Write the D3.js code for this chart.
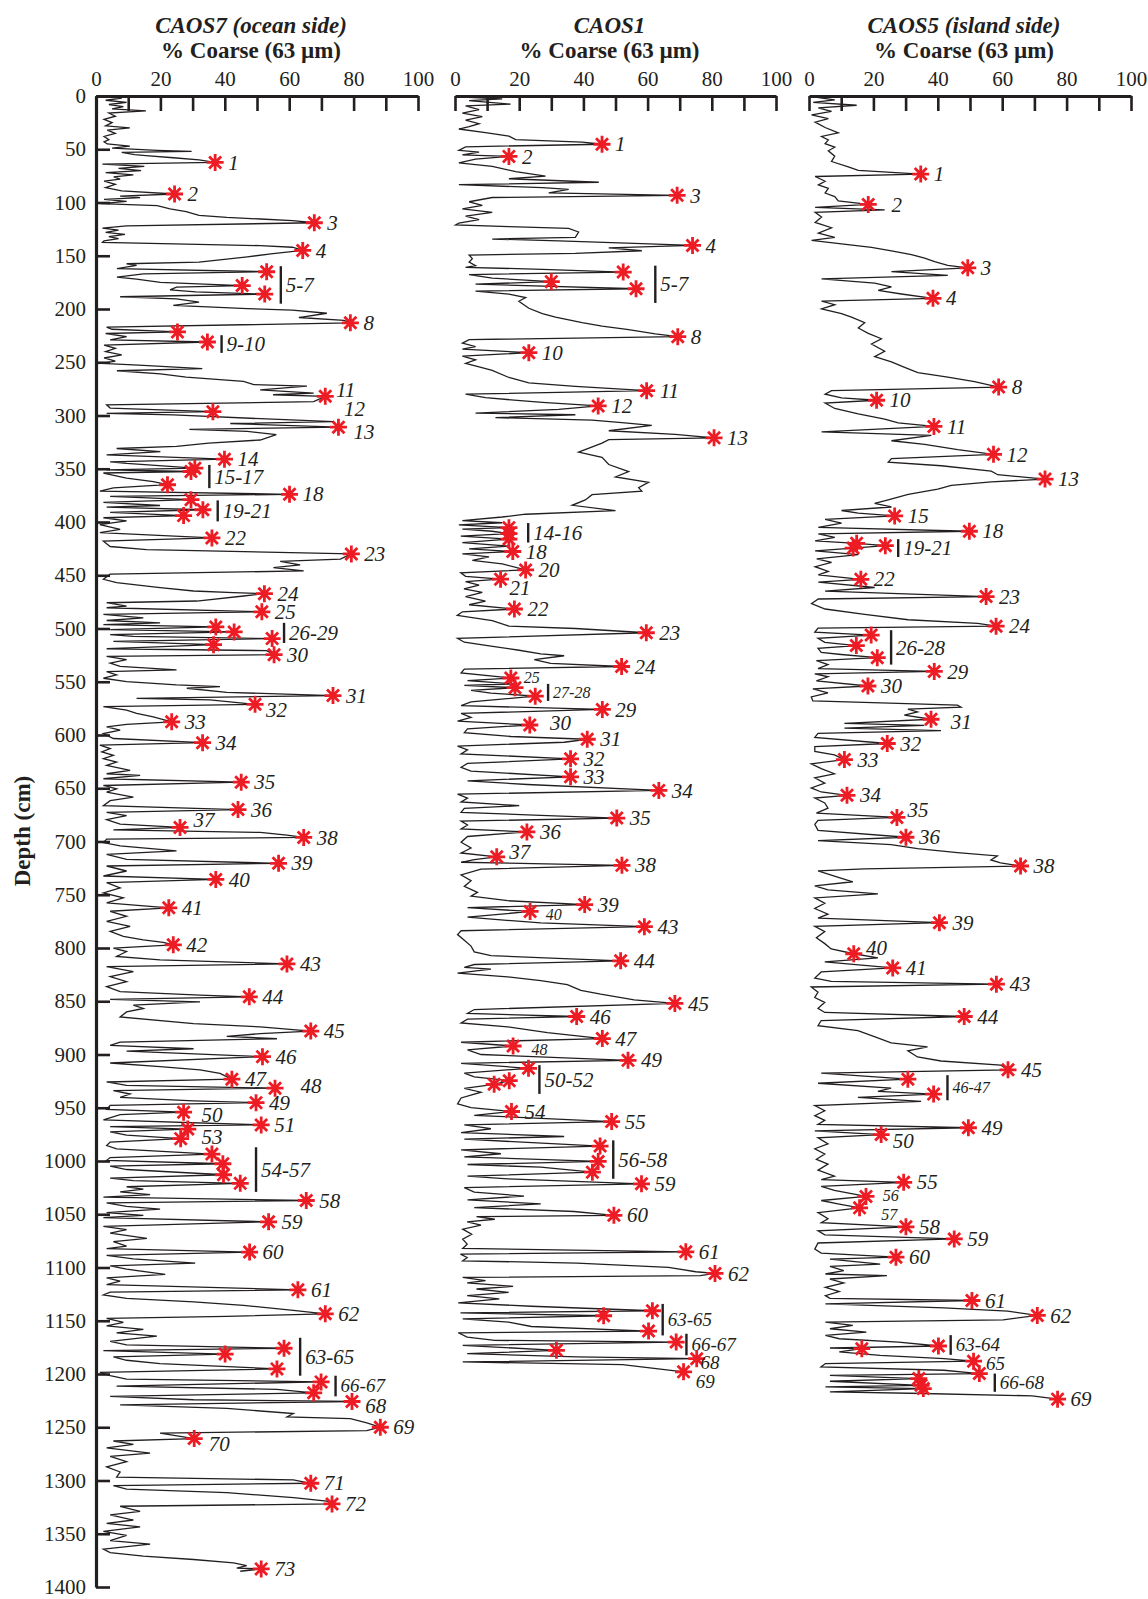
<!DOCTYPE html>
<html>
<head>
<meta charset="utf-8">
<script src="https://cdnjs.cloudflare.com/ajax/libs/d3/7.8.5/d3.min.js"></script>
<style>
  body { margin: 0; background: #fff; }
  text { font-family: "Liberation Serif", "Times New Roman", serif; fill: #231f20; }
</style>
</head>
<body>
<svg id="chart" width="1148" height="1599"></svg>
<script>
// ---- data: [depth cm, % coarse] ----
// CAOS7 (ocean side)
const caos7Trace = [[0,4.5],[2,8],[4,3],[6,9.5],[8,4],[10,8.5],[12,5],[14,15.5],[16,4],[19,6],[22,2.5],[25,5],[28,3],[30,10.5],[32,3.5],[35,6],[38,2.5],[41,4],[43,2.5],[45,3.5],[47,10.5],[49,5],[51,19],[52,29.7],[53,8],[55,12],[56,15.5],[58,24],[60,32],
[64,2],[66,15],[68,7],[70,14],[72,3],[74,11.6],[76,5.5],[78,7.5],[80,2.5],[83,6],[86,3],[89,8],
[94,7.5],[95.5,13.7],[97,2.5],[99,9.5],[101,1.5],[103,19],[106,23],[108.5,28],[112,32],[114,40.6],[115.5,51],[117,61],
[122,9.5],[124,2],[126,7],[128,3],[130,9],[132,4],[134,7],[136,2.5],[137.5,2],[139,28],[140.5,51],[142,61],
[148,55],[151,47],[156,32],[157.5,9.5],[159,12.6],[162,6.5],[167,14.7],[170,6.5],[172,12.6],[175,20],
[179.5,25],[182,23],[184,31],[188.5,7.5],[190.5,25],[193.5,32],[196.6,24],[199.7,47],[201,61],[204,71.7],[208,63],[210.6,77],
[217,3.3],[219,5],[223,3],[226,9.5],[229,4.4],[234,2.5],[237,6],[240,3],[243,8],[246,2.5],[249,6],[251,2],[253,14.7],[256,33],[258,6.5],[261,20],[264,28],[268,45.8],[271,49],[272.5,65.5],[276,51],[279,67.6],[280.5,55],
[287,67.6],[290,3.3],[293,4.4],[298,3.3],[299.5,24],[303,51],[305.8,73.8],[307.5,41.7],
[313,29],[315,47],[318,56],[323,51],[326,35],[329,25],[331,6.4],[334,20],[337,3.3],
[343.5,4.4],[345,9.5],[351,3.3],[354,2.3],[358.8,9.5],[362,17.8],[368,5.4],[371,1.2],[376,4.4],[381.5,2.3],[384.5,19.9],[386,3.3],[391,4.4],[396,2.3],[399,9.5],[402.5,1.2],[407,7.5],[410,1.2],[418,2.3],[423,4.4],[426,15.7],
[434.9,75.9],[437,57.2],[440.2,63.4],[442.8,55.1],[445.9,64.5],[449,4.4],[453.8,2.3],[457,6.4],[461.6,19.9],[464.8,30.3],[466.4,42.7],[469.5,45.8],[474.2,31.3],[475.8,3.3],[479,9.5],[480.5,3.3],[486.8,2.3],[490,14.7],[492.5,3.3],[494.7,19.9],[496.3,2.3],[501,4.4],[505.7,4.4],[507.3,11.6],[512,5.4],[517.7,14.7],[519,3.3],[520.8,53],[526.2,3.3],[529.3,9.5],[532.5,4.4],[535.6,7.5],[538.8,25],[540.4,3.3],[543.5,6.4],[546.7,2.3],[549.8,9.5],[553,25],[554.5,38.5],[556.1,28.2],[560,40.6],[561.8,61.3],[565.6,12.6],[567.1,35.4],[573.4,2.3],[576.6,9.5],[579.7,12.6],[582.9,17.8],[590,9.5],[592.3,3.3],[595.5,7.5],[598.6,2.3],[603.3,5.4],[609.6,1.2],[612.8,4.4],[615.9,1.8],[619.1,5.4],[622.2,2.3],[625.4,6.4],[628.5,3.3],[633.3,10.6],[636.4,3.3],[638,13.7],[641.1,2.3],[647.4,2.3],[650.6,6.4],[653.7,3.3],[658.4,11.6],[661.6,4.4],[666.3,2.3],[672.6,3.3],[675.8,9.5],[679.5,3.3],[683.6,7.5],[689,5.4],[691.5,51],[694,59.3],[697.8,3.3],[701,2.3],[704.1,7.5],[708.8,25],[712,3.3],[716.7,9.5],[723,3.3],[727.7,9.5],[732.4,2.3],[738.7,3.3],[743.5,7.5],[748.2,2.3],[752.9,8.5],[757.6,3.3],[765.5,4.4],[770.2,9.5],[774.9,3.3],[779.7,10.6],[784.4,4.4],[789.1,8.5],[792.3,14.7],[794.8,20.9],[800.1,5.4],[803.3,9.5],[808,6.4],[811.1,19.9],[817.4,3.3],[822.2,11.6],[826.9,4.4],[831.6,9.5],[836.3,3.3],[841,7.5],[844.2,32.3],[848.3,4.4],[850.5,32.3],[853.7,11.6],[856.8,14.7],[860,9.5],[864.7,7.5],[871,30.3],[874.1,51],[880.4,51],[883,40.6],[885.2,56.2],[888.3,7.5],[891.5,4.4],[894.6,30.3],[896.8,9.5],
[908,4.4],[911.3,19.9],[914.5,32.3],[917.7,38.5],[925.8,3.3],[929,9.5],[933.9,5.4],[937.1,10.6],[940.3,7.5],[943.5,30.3],[947.7,4.4],[951.6,3.3],[956.5,7.5],[961.3,2.3],[967.7,4.4],[972.6,4.4],[975.8,9.5],[982.3,4.4],[985.5,3.3],[988.7,6.4],[996.8,4.4],[999.4,3.3],[1004.8,4.4],[1008,9.5],[1016.1,4.4],[1018.4,11.6],[1024.2,9.5],[1026.5,14.7],[1029,7.5],[1031.6,16.8],[1033.9,2.3],[1039.4,3.3],[1042.6,9.5],[1045.2,19.9],[1048.4,3.3],[1051,14.7],[1053.2,2.3],[1061.3,2.3],[1064.5,9.5],[1067.7,4.4],[1072.6,15.8],[1075.8,5.4],[1080,9.5],[1082.3,3.3],[1088.7,3.3],[1091.9,11.6],[1095.8,30.8],[1098.4,4.4],[1101.6,9.5],[1106.5,21.5],[1109.7,3.3],[1112.9,7.5],[1116.1,3.3],[1123.2,4.4],[1125.8,2.3],[1129,9.5],[1132.3,30.3],[1135.5,45.8],[1140.3,61.3],[1145.8,40.6],[1147.7,3.3],[1151.6,8.5],[1154.8,3.3],[1158.1,14.7],[1161.3,6.4],[1164.5,18.9],[1169.4,4.4],[1172.6,9.5],[1178,2.3],[1183.9,5.4],[1187.1,9.5],[1190.3,19.9],[1198.4,1.2],[1201.6,4.4],[1204.8,9.5],[1211.3,6.4],[1214.5,56.2],[1221,4.4],[1224.2,30.3],[1229,7.5],[1232.3,40.6],[1237.1,61.3],[1240.3,59.3],[1241.9,79],[1245.8,84.1],[1253.2,84.1],[1255.5,19.9],[1262.9,5.4],[1266.1,11.6],[1269.4,3.3],[1274.2,16.8],[1277.4,4.4],[1282.3,9.5],[1287.1,3.3],[1292,7.5],[1296.8,6.4],[1299.4,61.3],[1304.8,5.4],[1308.1,9.5],[1311.3,40.6],[1316.1,61.3],[1319.4,71.7],[1324.2,7.5],[1329,13.7],[1332.3,4.4],[1337.1,11.6],[1340.3,3.3],[1343.5,13.7],[1347.7,2.3],[1351.6,9.5],[1356.5,4.4],[1359.7,16.8],[1364.5,2.3],[1367.7,4.4],[1371,14.7],[1374.2,30.3],[1377.4,42.7],[1380,46.8],[1382.3,43.7],[1385.2,44.8]];

const caos7Stars = [[62.4,37,"1"],[92,24.4,"2"],[119,67.8,"3"],[145,64.2,"4"],[165,53,""],[178,45.4,""],[186,52.4,""],[213,79,"8"],[221.5,25.3,""],[231,34.6,""],[282,71.2,"11"],[296.4,36.3,"12"],[311,75.3,"13"],[341,39.9,"14"],[349.5,30.7,""],[352.6,29.5,""],[365,22.2,""],[374,60.1,"18"],[379,29.5,""],[388.5,33.2,""],[394,27.2,""],[415,36,"22"],[430,79.3,"23"],[467.3,52.3,"24"],[484.3,51.5,"25"],[498.5,37.2,""],[503.2,42.9,""],[509.5,54.7,""],[515.2,36.5,""],[524.6,55.3,"30"],[563,73.6,"31"],[571.2,49.4,"32"],[587.6,23.5,"33"],[607.2,33.1,"34"],[644.3,45.1,"35"],[670,44.1,"36"],[686.8,26.1,"37"],[696.2,64.5,"38"],[720.5,56.7,"39"],[735.6,37.2,"40"],[762.3,22.6,"41"],[797,24,"42"],[815,59.3,"43"],[845.8,47.6,"44"],[878,66.7,"45"],[902,51.7,"46"],[923.2,42.2,"47"],[931.6,55.6,"48"],[945.2,49.7,"49"],[954.2,27.2,"50"],[966.1,51.3,"51"],[970,28.5,""],[979,26.3,"53"],[993.5,36,""],[1002.6,39.4,""],[1012.9,39.6,""],[1021,44.8,""],[1037.1,65.3,"58"],[1057.1,53.6,"59"],[1085.5,47.7,"60"],[1121,62.7,"61"],[1143.5,71.2,"62"],[1175.8,58.4,""],[1181.3,40.1,""],[1195.2,56.2,""],[1207.4,69.9,""],[1217.7,67.6,""],[1225.8,79.5,"68"],[1250,88.3,"69"],[1260.6,30.5,"70"],[1302.6,66.7,"71"],[1322,73.3,"72"],[1383,51.3,"73"]];

// grouped samples: [top depth, bottom depth, % at bracket, label]
const caos7Groups = [[159.8,195,57.4,"5-7"],[224.6,241.2,39,"9-10"],[346.4,368.2,35.2,"15-17"],[379.7,399.4,37.8,"19-21"],[494.7,513.6,58.4,"26-29"],[987.1,1029,49.7,"54-57"],[1166,1201.6,63.4,"63-65"],[1201.6,1221,74.4,"66-67"]];
// labels that sit away from their star: [label, depth, %]
const caos7LabelAt = [["11",276,74.5],["12",294,77],["13",315,80],["32",576.6,52.8],["37",680,30.3],["48",929.7,63.5],["50",957,32.8],["53",977,32.8],["68",1229.5,83.6],["70",1266,35]];

// CAOS1
const caos1Trace = [[1,2.3],[2.7,14.7],[4.3,4.4],[7.7,17.3],[9.3,3.3],[12.7,7.5],[16,2.3],[19.3,8.5],[22.7,3.3],[26,7.5],[28.7,4.4],[31,1.2],[34.3,9.5],[37.7,16.8],[41,18.9],[43.3,39.6],[47.7,3.3],[51,1.2],[52.7,7.5],[55.3,2.3],[59.3,6.4],[62.7,1.2],[66,11.6],[71,18.9],[75.3,28.2],[77.7,16.8],[81,44.8],[83.3,1.2],[86,27.2],[87.7,35.4],[91,29.2],[95.3,11.6],[99.3,4.4],[102.7,8.5],[106,2.3],[109.3,11.6],[112.7,3.3],[116,7.5],[119.3,1.2],[121,0.2],[122.7,16.8],[124.3,35.4],[127.7,38.5],[132.7,37.5],[134.3,11.6],[136,32.3],[138.7,58.2],[142.7,47.9],[145.3,58.2],[147.7,37.5],[149.3,4.4],[152.7,5.4],[156,4.4],[159.3,6.4],[161,3.3],[162.7,27.2],[167.7,4.4],[171,11.6],[176.7,6.4],[183.3,6.4],[186,16.8],[189.3,22],[192.7,19.9],[199.3,23],[204.3,27.2],[207.7,31.3],[212.7,39.6],[216,45.8],[219.3,54.1],[223.3,62.4],[228.7,4.4],[232,2.3],[235.3,6.4],[237.7,2.3],[244.3,2.3],[247.7,6.4],[251,3.3],[254.3,7.5],[257.7,11.6],[264.3,16.8],[269.3,23],[272.7,37.5],[280,3.3],[283.3,9.5],[287.7,27.2],[294.3,32.3],[297.7,6.4],[299.3,37.5],[302,12.6],[304.3,42.7],[306.7,52],[309.3,61.3],[314.3,47.9],[317.7,68.6],[322.7,47.9],[326,45.8],[334.3,38.5],[339.3,45.8],[346,47.9],[352.7,54.1],[357.7,50],[362.7,60.3],[367.7,57.2],[371,58.2],[374.3,42.7],[379.3,40.6],[384.3,36.5],[389.3,50],[392.7,22],[395.3,14.7],[398.7,2.3],[400.7,14.7],[402.7,1.2],[406.7,2.3],[408.7,11.6],[413.3,1.8],[419.3,2.3],[422.7,16.8],[425.3,4.4],[430,2.3],[432.7,10.6],[436,5.4],[439.3,14.7],[447.7,1.8],[451,3.3],[456,3.3],[459.3,7.5],[462.7,2.8],[466,8.5],[470,3.3],[474.3,9.5],[477.7,4.4],[484.3,2.3],[487.7,0.7],[492.7,11.6],[497.7,16.8],[500,37.5],
[509.3,0.8],[512.9,2.9],[516.6,11.2],[520.2,19.5],[523.8,26.7],[525.6,34],[529.2,24.7],[532.8,29.8],[538.2,2.9],[541.8,1.9],[549,3.9],[552,18.4],[553.4,2.9],[558.1,5],[560.6,11.2],[568.9,5],[572.5,1.9],[579.7,1.9],[583.4,5],[587,0.8],[594.2,3.9],[597.8,2.9],[601.4,17.4],[606.8,34],[610.4,0.8],[614,3.9],[617.7,1.9],[626.7,3.9],[630.3,1.9],[633.9,5],[643,3.9],[646.5,22.6],[655.6,0.8],[659.2,3.9],[662.8,1.9],[666.4,20],[668.9,2.9],[672.6,1.9],[675.4,26.7],[680.9,1.9],[684.5,3.9],[688.1,1.9],[695.3,3.9],[700.7,1.9],[706.1,5],[710.8,1.9],[717,6],[719.5,1.9],[726,8.1],[731.4,1.9],[736.8,5],[742.2,2.9],[747.7,7],[751.3,5],[755.6,16.4],[762.1,3.9],[771.1,3.9],[776.5,26.7],[783.8,1.9],[787.4,0.8],[792.8,2.9],[798.2,5],[803.6,6],[807.2,11.2],[809.8,31.9],[815.5,6],[818.1,2.9],[819.9,11.2],[823.5,0.8],[827.1,16.4],[830.7,26.7],[834.3,35],[839.7,39.2],[843.4,45.4],[848.8,55.8],[857.8,6],[861.4,3.9],[866.8,3.9],[870.4,1.9],[874,16.4],[879.5,28.8],[888.5,1.9],[895.7,3.9],[900,8.1],[908.3,1.9],[917.4,2.9],[921,6],[931.8,2.9],[935.4,8.1],[940.8,1.9],[946.3,0.8],[949.9,5],[957.1,6],[966.1,2.9],[969.7,11.2],[973.3,1.9],[977,34],[979.5,2.9],[989.5,1.9],[993.2,14.3],[996.1,2.9],[1003.3,3.9],[1005.8,26.7],[1014.2,3.9],[1016.7,16.4],[1025,2.9],[1029.3,6],[1032.9,21.5],[1036.5,3.9],[1040.2,26.7],[1043.8,6],[1047.4,37.1],
[1052.2,6.7],[1054.7,12.4],[1057.2,3.8],[1060.3,8.1],[1064,2.4],[1068.8,5.2],[1073.4,2.4],[1078.1,3.8],[1082.1,2.4],[1087.4,1.7],[1090.6,3.8],[1093.7,2.4],[1095.9,38],[1099.9,66.5],[1104,75],[1107.7,76.4],[1109.3,2.4],[1112.4,9.5],[1114.5,3.8],[1117.7,18.1],[1120.2,6.7],[1123.3,16.7],[1126.4,3.8],[1129.5,13.8],[1133.2,1],[1136.4,23.8],[1142.6,1.7],[1148.2,2.4],[1151.3,16.7],[1155.4,23.8],[1161.3,1],[1165.3,3.8],[1168.4,12.4],[1173.1,2.4],[1180.9,3.8],[1184,38],[1188.7,2.4],[1191.2,52.2]];

const caos1Stars = [[45.3,45.8,"1"],[56.7,16.8,"2"],[93.3,69.2,"3"],[140.3,74,"4"],[165.3,52.4,""],[174.3,30,""],[181,56.4,""],[226,69.4,"8"],[241,23,"10"],[276.7,59.7,"11"],[291,44.6,"12"],[321,80.7,"13"],[405.3,16.8,""],[411,16.8,""],[416,16.8,""],[427.7,18,"18"],[445,22,"20"],[453.7,14.2,"21"],[481.7,18.5,"22"],[504,59.6,"23"],[535.7,51.9,"24"],[546.5,17.4,"25"],[555.6,18.7,""],[563.5,25,""],[576,45.9,"29"],[590.6,23.3,"30"],[604,41.2,"31"],[622.4,36,"32"],[639.3,36,"33"],[652,63.5,"34"],[678,50.4,"35"],[691,22.4,"36"],[714.4,13,"37"],[722.4,52,"38"],[759.2,40.4,"39"],[765.7,23.4,"40"],[780,59,"43"],[812,51.6,"44"],[852,68.5,"45"],[864.3,37.9,"46"],[885,45.9,"47"],[892,18.1,"48"],[905.5,53.9,"49"],[913,22.9,""],[924.6,16.9,""],[928,12.2,""],[953.5,17.6,"54"],[963,48.8,"55"],[986,45.2,""],[1000.4,44.6,""],[1010.5,42.8,""],[1021.4,58.1,"59"],[1051,49.5,"60"],[1085.3,71.9,"61"],[1105.6,81,"62"],[1140.6,61.5,""],[1145.3,46.3,""],[1159.7,60.3,""],[1170,68.9,""],[1177.8,31.6,""],[1185.6,75.3,"68"],[1198,71.2,"69"]];

const caos1Groups = [[159.3,194.3,62.4,"5-7"],[401,419.3,22.8,"14-16"],[552,568,29,"27-28"],[910,937,26.3,"50-52"],[980.6,1016.7,49.3,"56-58"],[1134.2,1163.8,64.7,"63-65"],[1162.2,1182.5,72.1,"66-67"]];
const caos1LabelAt = [["21",462,17],["30",589,29.6],["37",709.7,16.9],["40",768.6,28.3],["48",895.7,23.8],["68",1189,76.5],["69",1207.5,75]];

// CAOS5 (island side)
const caos5Trace = [[1,1.9],[3.7,8],[6,1.3],[8.7,14.8],[11.1,2.9],[14.5,7],[17.8,0.8],[21.2,6],[24.5,1.9],[29.6,5],[34.6,9.1],[38,3.9],[41.3,6],[44.7,5],[48.1,8],[51.4,6],[56.5,8],[61.5,7],[66.6,12.2],[69.9,15.3],[75.6,1.9],[80,5],[83.4,2.9],[86.7,6],[91.1,5],[94.5,8],[98.5,9.1],[104.5,1.9],[106.9,23.5],[109.2,1.9],[113.6,3.9],[118.7,1.9],[123.7,7],[128.7,2.9],[132.8,8],[135.5,0.8],[138.8,10.1],[142.2,19.4],[145.5,25.6],[148.9,31.8],[152.3,35.9],[155.6,39],[159,43.1],[165,25.6],[168.4,43.1],[171.8,3.9],[175.8,20.4],[179.2,25.6],[182.5,21.5],[185.9,28.7],[192.6,3.9],[196,8],[200,3.9],[204.4,10.1],[207.7,13.2],[212.8,17.3],[217.8,15.3],[222.9,18.4],[227.9,22.5],[232.9,19.4],[239.7,23.5],[244.7,20.4],[249.7,25.6],[254.8,29.7],[259.8,33.8],[263.9,43.1],[268.2,51.4],[276.6,7],[280,5],[283.4,10.1],[288.4,5],[293.4,8],[298.5,15.3],[303.5,23.5],[306.9,27.7],[315.3,3.9],[318.7,38],[323.7,25.6],[327.1,35.9],[332.1,46.2],[340.5,25.6],[343.9,24.6],[347.2,41.1],[352.3,56.6],[355.6,58.6],[362.4,56.6],[365.7,44.2],[369.1,40],[374.1,30.8],[379.2,24.6],[382.5,20.4],[385.9,25.6],[389.2,10.1],[391.6,15.3],[397.6,5],[401,10.1],[405,2.9],[411.1,2.9],[414.5,8],[417.8,1.9],[427.2,1.9],[430.6,15.3],[434.6,2.4],[438,7],[442,1.9],[446.4,6],[449.7,2.9],[456.5,2.9],[461.5,20.4],[464.9,5],[472.3,2.9],[476.6,0.8],[481.7,5],[486.7,17.3],[491.8,30.8],[495.1,52.4],
[499.7,2.8],[503.5,1.8],[509.2,2.8],[513,4.9],[518.7,2.8],[522.5,3.8],[524.4,10],[530.1,2.3],[533.9,5.9],[537.7,2.8],[542.6,1.8],[545.3,5.9],[549.1,2.3],[556.7,1.2],[560.5,5.9],[564.3,0.7],[568,1.2],[571.9,46.1],[573.8,47.2],[575.7,30.7],[578.3,33.7],[581.4,29.6],[589,11],[590.9,35.8],[593.5,11],[595.8,41],[598.4,2.8],[602.2,1.8],[611,1.8],[615.5,1.8],[618.6,7.9],[627,0.7],[631.5,3.8],[636.4,7.9],[640.2,1.8],[645.2,4.9],[649.7,0.7],[653.5,3.8],[659.2,1.8],[663.8,4.9],[668.7,5.9],[673.3,2.3],[680.1,2.8],[683.9,1.8],[689.6,2.8],[699.1,2.8],[702.9,25.5],[706.7,33.7],[710.5,46.1],[713.5,58.5],[717.3,56.5],[720,59.5],[725.7,17.2],[727.6,2.8],[732.5,7.9],[737.8,13.6],[741.6,1.8],[745.4,5.9],[749.2,21.4],[753,1.8],[758,4.9],[762.9,1.8],[768.2,5.9],[772,2.8],[779.6,1.8],[784.6,4.9],[790.3,2.3],[795.9,4.9],[800.9,6.9],[809.2,21.4],[813,4.9],[822.5,3.8],[828.2,1.8],[831.3,6.9],[836.6,0.7],[841.5,2.8],[846.5,1.8],[851,4.9],[856.7,2.8],[860.5,4.9],[868.1,3.8],[873,2.8],[877.6,15.2],[883.3,20.3],[889,25.5],[892.8,36.8],[896.6,30.7],[902.3,33.7],[906.1,41],[909.9,59.5],[917.5,3.8],[927,2.8],[931.5,25.5],[934.6,21.4],[940.3,15.2],[944.1,34.8],[947.9,1.8],[952.8,4.9],[957.4,1.8],[961.9,4.9],[965.7,2.8],[971.8,1.8],[978.2,2.8],[984,5.9],[988.5,1.8],[993.4,4.9],[998.4,2.3],[1002.9,5.9],[1008.6,2.8],[1014.3,7.9],[1017.4,3.8],[1023.8,3.8],[1027.6,7.9],[1037.1,3.8],[1040.2,9],[1048.5,2.8],[1054.2,5.9],[1058,3.8],[1065.6,2.8],[1069.4,4.9],[1077,2.8],[1082.7,1.8],[1086.5,3.8],
[1092.1,6.5],[1096.8,22.1],[1099,6.5],[1103,10.8],[1106.1,5.1],[1107.7,24.2],[1110.8,6.5],[1114.5,10.8],[1118.6,5.1],[1122.6,9.4],[1126.4,5.1],[1128.9,6.5],[1134.2,5.1],[1137.9,41.9],[1141,61.7],[1149.1,60.3],[1151.3,5.1],[1154.4,13.6],[1157.5,6.5],[1160.7,17.8],[1163.8,5.1],[1166.9,9.4],[1170,27.8],[1175.6,6.5],[1179.3,9.4],[1182.5,22.1],[1185.6,41.9],[1190.2,5.1],[1193.4,3.7],[1196.5,41.9],[1201.2,6.5],[1206.8,6.5],[1212.1,5.1],[1216.7,6.5],[1218.3,35.4],[1220.5,69.3]];

const caos5Stars = [[73.3,34.7,"1"],[101.8,18.4,"2"],[161.3,49.3,"3"],[190,38.5,"4"],[273.3,58.9,"8"],[285.7,21,"10"],[310.3,38.8,"11"],[336.5,57.3,"12"],[359.7,73.3,"13"],[394.3,26.6,"15"],[408.7,49.8,"18"],[420,14.8,""],[422.2,23.7,""],[424.5,13.7,""],[453.8,16.1,"22"],[470,55,"23"],[497.8,58.1,"24"],[506.2,19.3,""],[516,14.7,""],[527.4,21.2,""],[540.3,38.9,"29"],[554,18.3,"30"],[585.2,37.9,"31"],[608,24.3,"32"],[623.1,11,"33"],[656.6,11.8,"34"],[677.4,27.3,"35"],[696,30.1,"36"],[723,65.7,"38"],[776.2,40.5,"39"],[805.4,13.9,"40"],[818.7,26,"41"],[834,58.2,"43"],[864.3,48.2,"44"],[914.4,61.8,"45"],[923.2,30.7,""],[937.2,38.7,""],[968.8,49.5,"49"],[975.2,22.4,"50"],[1020,29.4,"55"],[1033.3,17.7,"56"],[1044,15.7,"57"],[1061.8,30.1,"58"],[1073.2,45.1,"59"],[1090.3,27,"60"],[1131,50.6,"61"],[1145,70.9,"62"],[1173.7,40.2,""],[1176.2,16.4,""],[1188,51.1,"65"],[1199.6,52.9,""],[1204.3,34.1,""],[1210.6,34.8,""],[1213.7,35.5,""],[1223.6,77.2,"69"]];

const caos5Groups = [[416.1,432.9,27.7,"19-21"],[501.6,533.9,25.5,"26-28"],[919.4,943,43,"46-47"],[1163.5,1182,44,"63-64"],[1199.6,1216.7,57.7,"66-68"]];
const caos5LabelAt = [["2",101.8,25.6],["31",588,44],["35",670.6,30.6],["40",799.7,17.7],["50",981,26],["56",1032,22.9],["57",1050.4,22.4],["65",1190.5,55]];

const pctTicks = d3.range(0, 101, 10);
const depthTicks = d3.range(0, 1401, 50);

// ---- drawing ----
const svg = d3.select("#chart");
const y = d3.scaleLinear().domain([0, 1400]).range([96, 1587]);

const panels = [
  { title: "CAOS7 (ocean side)", x0: 96, x1: 418, trace: caos7Trace, stars: caos7Stars, groups: caos7Groups, labelAt: caos7LabelAt, small: [], mid: ["66-67"], depthAxis: true },
  { title: "CAOS1", x0: 455, x1: 776, trace: caos1Trace, stars: caos1Stars, groups: caos1Groups, labelAt: caos1LabelAt, small: ["25", "40", "48", "27-28"], mid: ["63-65", "66-67", "68", "69"], depthAxis: false },
  { title: "CAOS5 (island side)", x0: 809, x1: 1131, trace: caos5Trace, stars: caos5Stars, groups: caos5Groups, labelAt: caos5LabelAt, small: ["56", "57", "46-47"], mid: ["63-64", "65", "66-68"], depthAxis: false }
];

function asterisk(r) {
  let d = "";
  for (let k = 0; k < 4; k++) {
    const a = k * Math.PI / 4;
    d += "M" + (-r * Math.cos(a)) + "," + (-r * Math.sin(a)) + "L" + (r * Math.cos(a)) + "," + (r * Math.sin(a));
  }
  return d;
}

function labelSize(p, t) {
  if (p.small.includes(t)) return "16px";
  if (p.mid.includes(t)) return "19px";
  return "21px";
}

panels.forEach(function(p) {
  const x = d3.scaleLinear().domain([0, 100]).range([p.x0, p.x1]);
  const cx = (p.x0 + p.x1) / 2 - 6;

  svg.append("text").attr("x", cx).attr("y", 33).attr("text-anchor", "middle")
    .style("font-size", "23px").style("font-weight", "bold").style("font-style", "italic").text(p.title);
  svg.append("text").attr("x", cx).attr("y", 58).attr("text-anchor", "middle")
    .style("font-size", "23px").style("font-weight", "bold").text("% Coarse (63 \u00b5m)");

  // top axis
  const top = svg.append("g").attr("transform", "translate(0," + y(0) + ")")
    .call(d3.axisTop(x).tickValues(pctTicks).tickSize(-15).tickSizeOuter(0).tickPadding(10)
      .tickFormat(d => d % 20 === 0 ? d : ""));
  top.select(".domain").attr("stroke", "#231f20").attr("stroke-width", 3.2);
  top.selectAll(".tick line").attr("stroke", "#231f20").attr("stroke-width", 2.6);
  top.selectAll("text").style("font-size", "21px").attr("fill", "#231f20");

  if (p.depthAxis) {
    const left = svg.append("g").attr("transform", "translate(" + p.x0 + ",0)")
      .call(d3.axisLeft(y).tickValues(depthTicks).tickSize(-14).tickSizeOuter(0).tickPadding(10)
        .tickFormat(d3.format("d")));
    left.select(".domain").attr("stroke", "#231f20").attr("stroke-width", 3.2);
    left.selectAll(".tick line").attr("stroke", "#231f20").attr("stroke-width", 2.6);
    left.selectAll("text").style("font-size", "21px").attr("fill", "#231f20");
  }

  // trace passes through every starred sample
  const pts = p.trace.concat(p.stars.map(s => [s[0], s[1]])).sort((a, b) => a[0] - b[0]);
  svg.append("path").datum(pts)
    .attr("fill", "none").attr("stroke", "#231f20").attr("stroke-width", 1.3).attr("stroke-linejoin", "miter")
    .attr("d", d3.line().x(d => x(d[1])).y(d => y(d[0])));

  // bracket groups
  svg.selectAll(null).data(p.groups).enter().append("line")
    .attr("x1", d => x(d[2])).attr("x2", d => x(d[2]))
    .attr("y1", d => y(d[0])).attr("y2", d => y(d[1]))
    .attr("stroke", "#231f20").attr("stroke-width", 2.4);
  svg.selectAll(null).data(p.groups).enter().append("text")
    .attr("x", d => x(d[2]) + 5).attr("y", d => y((d[0] + d[1]) / 2)).attr("dy", "0.34em")
    .style("font-style", "italic").style("font-size", d => labelSize(p, d[3]))
    .text(d => d[3]);

  // stars
  svg.selectAll(null).data(p.stars).enter().append("path")
    .attr("transform", d => "translate(" + x(d[1]) + "," + y(d[0]) + ")")
    .attr("d", asterisk(8.5)).attr("stroke", "#ed1c24").attr("stroke-width", 2.8).attr("fill", "none");

  // star labels
  const moved = new Map(p.labelAt.map(l => [l[0], l]));
  svg.selectAll(null).data(p.stars.filter(s => s[2] !== "")).enter().append("text")
    .attr("x", d => moved.has(d[2]) ? x(moved.get(d[2])[2]) : x(d[1]) + 13)
    .attr("y", d => moved.has(d[2]) ? y(moved.get(d[2])[1]) : y(d[0]))
    .attr("dy", "0.34em")
    .style("font-style", "italic").style("font-size", d => labelSize(p, d[2]))
    .text(d => d[2]);
});

svg.append("text").attr("transform", "translate(30,831) rotate(-90)").attr("text-anchor", "middle")
  .style("font-size", "23px").style("font-weight", "bold").text("Depth (cm)");
</script>
</body>
</html>
